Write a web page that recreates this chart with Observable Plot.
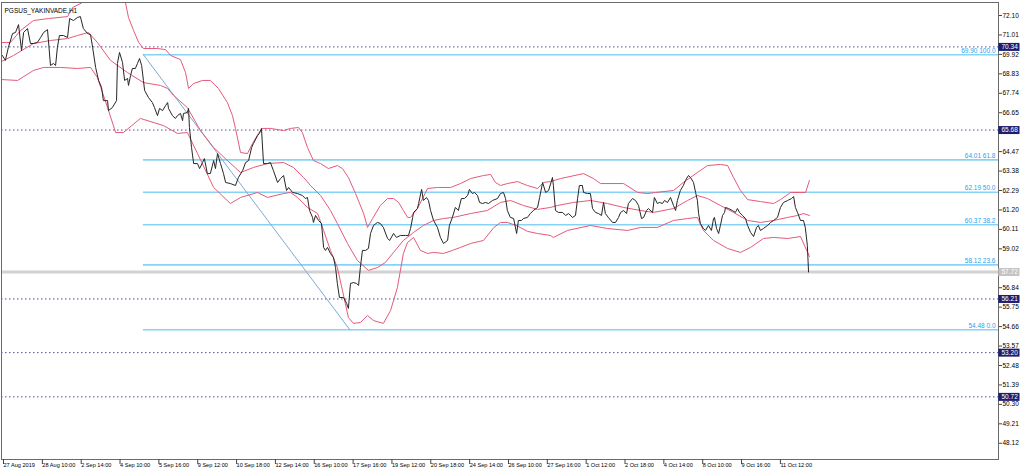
<!DOCTYPE html>
<html><head><meta charset="utf-8">
<script src="https://cdn.jsdelivr.net/npm/d3@7"></script>
<script src="https://cdn.jsdelivr.net/npm/@observablehq/plot@0.6"></script>
<style>
html,body{margin:0;padding:0;background:#fff;}
#chart{width:1024px;height:474px;}
</style></head><body>
<div id="chart"></div>
<script>
const title = "PGSUS_YAKINVADE,H1";

// close prices: [bar index, price]
const price = [[0.3,69.86],[1.3,69.58],[2.3,70.31],[3.7,71.09],[4.7,71.15],[5.7,71.59],[6.7,70.14],[7.4,71.15],[8.7,71.37],[9.7,70.53],[10.7,70.53],[12.0,70.59],[13.1,70.87],[14.1,71.15],[15.4,71.31],[16.4,69.30],[17.4,69.41],[18.1,69.30],[18.7,70.31],[19.4,70.98],[20.7,70.98],[22.1,70.87],[22.8,71.93],[24.1,71.82],[25.4,71.99],[26.4,72.04],[27.4,71.37],[28.8,71.09],[29.8,71.03],[30.5,70.31],[31.5,69.19],[32.5,68.46],[33.5,68.06],[34.1,67.33],[35.5,67.33],[35.8,66.77],[37.1,66.94],[38.5,67.33],[38.8,69.41],[39.5,70.03],[40.5,69.47],[41.2,68.46],[42.2,68.57],[42.5,68.18],[43.2,68.74],[43.8,69.13],[44.8,69.13],[45.5,69.41],[46.2,69.69],[46.9,69.30],[47.5,68.46],[47.9,67.90],[49.2,67.50],[50.5,67.22],[51.2,66.94],[52.2,66.49],[52.9,66.89],[53.9,66.77],[54.9,67.05],[55.6,67.22],[55.9,66.89],[57.2,66.49],[58.2,66.33],[58.9,66.49],[59.9,66.61],[60.6,66.21],[60.9,66.61],[62.2,66.66],[62.6,66.89],[62.9,65.82],[63.6,64.70],[64.3,63.80],[65.6,63.80],[66.3,63.52],[67.3,63.86],[67.9,64.08],[68.9,63.24],[69.9,63.24],[71.0,63.97],[71.6,63.52],[72.3,64.36],[73.3,63.80],[74.3,63.24],[75.0,62.74],[76.6,62.68],[78.3,62.57],[79.3,63.02],[80.7,63.41],[81.7,63.86],[82.7,63.97],[83.7,64.70],[84.3,64.92],[85.7,65.37],[86.3,65.49],[87.0,65.77],[87.7,63.80],[89.0,63.80],[90.0,63.86],[91.0,63.41],[92.4,62.74],[93.4,62.96],[94.4,63.13],[95.4,62.29],[96.1,62.46],[97.4,62.18],[99.1,62.12],[100.7,62.01],[101.7,61.84],[102.4,61.90],[103.1,61.17],[104.1,60.78],[104.4,60.50],[105.1,60.89],[106.1,60.61],[107.1,60.44],[107.8,59.10],[108.4,58.93],[109.1,59.10],[110.1,58.76],[111.1,58.54],[111.8,57.97],[112.4,57.08],[113.1,56.29],[114.5,56.29],[115.5,55.96],[116.1,55.68],[116.8,57.08],[117.8,57.13],[118.8,57.08],[119.5,56.97],[120.1,57.97],[120.8,58.93],[121.8,58.93],[122.8,59.04],[123.5,59.88],[124.5,60.33],[125.8,60.50],[126.8,60.44],[127.8,60.22],[129.2,59.60],[129.9,59.49],[131.2,59.88],[132.2,59.66],[133.5,59.77],[135.2,59.77],[136.2,59.77],[136.9,60.16],[137.6,60.78],[137.9,61.06],[139.2,61.28],[139.6,61.56],[140.6,62.35],[141.2,61.73],[142.2,61.90],[142.9,61.73],[143.6,61.17],[144.6,60.61],[145.9,60.22],[146.9,59.66],[147.9,59.32],[149.3,59.49],[149.9,60.33],[150.9,60.78],[151.9,61.34],[152.9,61.17],[153.9,61.84],[154.9,61.84],[156.0,62.01],[156.6,62.35],[157.6,62.12],[158.3,62.18],[159.3,62.01],[160.0,61.62],[161.0,61.56],[162.0,61.62],[163.0,61.56],[164.3,61.73],[166.0,61.84],[167.0,62.12],[168.0,62.18],[168.7,61.84],[169.3,61.17],[170.3,60.78],[171.4,60.72],[172.4,59.88],[173.0,60.61],[174.0,60.61],[174.7,60.72],[176.0,60.78],[177.0,61.00],[178.0,61.17],[179.4,61.34],[180.1,61.90],[181.1,62.74],[182.1,62.18],[183.1,62.29],[184.4,63.02],[184.7,62.57],[185.4,61.17],[186.4,61.06],[187.8,61.06],[188.8,60.89],[189.8,61.00],[191.1,60.78],[192.1,60.89],[192.8,61.84],[193.4,62.57],[194.4,62.57],[194.8,62.18],[196.1,62.12],[197.1,62.12],[197.8,61.28],[198.8,61.06],[199.8,61.00],[200.8,60.89],[201.5,61.62],[202.1,61.00],[203.1,60.78],[204.5,60.50],[205.5,60.50],[206.5,60.78],[207.2,61.06],[208.2,61.17],[209.2,61.00],[209.8,61.56],[211.2,61.84],[212.2,61.73],[213.2,61.45],[214.2,60.72],[214.9,60.78],[215.9,61.17],[216.5,61.28],[217.9,61.06],[218.5,61.90],[219.5,61.56],[220.2,61.62],[221.2,61.56],[221.9,61.73],[222.9,61.62],[223.9,61.90],[224.9,61.45],[225.6,61.17],[226.2,61.73],[227.2,62.29],[228.2,62.57],[228.9,62.85],[229.9,63.13],[230.6,63.02],[231.6,62.74],[232.3,62.18],[232.9,61.73],[233.3,61.00],[233.9,60.44],[234.9,60.16],[235.6,60.05],[236.6,60.33],[237.6,60.05],[238.3,60.72],[238.6,60.78],[239.3,60.16],[240.0,59.88],[240.6,60.33],[241.3,60.89],[242.0,61.06],[242.3,61.34],[243.3,61.28],[244.6,61.17],[245.6,61.06],[246.3,61.28],[247.0,61.06],[248.0,60.89],[249.0,60.72],[249.7,60.33],[250.7,59.94],[251.7,59.71],[252.7,60.22],[253.3,60.33],[254.0,60.05],[255.0,60.16],[256.4,60.33],[257.4,60.50],[258.4,60.61],[259.7,60.78],[260.7,61.34],[261.7,61.62],[263.1,61.73],[264.4,61.84],[265.1,61.95],[265.7,61.34],[266.4,61.06],[267.4,60.61],[268.4,60.61],[269.0,60.22],[269.7,59.21],[270.1,57.72]];

// Bollinger bands: [bar index, value]
const upperBand = [[0,70.59],[3.0,70.59],[6.4,71.26],[10.7,71.82],[15.7,71.93],[22.1,72.04],[23.8,72.55],[27.1,72.83],[30.4,73.11],[35.8,73.78],[41.2,73.05],[42.5,71.99],[44.2,71.26],[45.9,70.59],[47.5,70.25],[52.2,70.25],[54.9,70.19],[56.6,69.86],[59.9,69.63],[61.6,68.90],[62.6,68.01],[64.3,68.29],[67.3,68.46],[69.9,68.46],[72.6,68.01],[75.6,67.22],[77.3,66.49],[78.3,65.77],[80.0,64.42],[82.3,64.36],[84.0,64.92],[86.0,65.49],[87.3,65.77],[90.0,65.77],[94.4,65.65],[96.7,65.77],[99.4,65.82],[100.7,65.54],[102.4,64.70],[104.4,63.97],[106.8,63.80],[109.4,63.52],[112.4,63.69],[114.1,63.52],[116.1,63.02],[118.5,62.12],[121.2,61.00],[122.5,60.22],[124.2,60.72],[126.8,61.45],[129.2,61.84],[131.2,61.84],[132.9,61.62],[134.5,61.17],[135.9,60.78],[136.9,60.78],[139.2,61.28],[142.6,62.40],[145.9,62.46],[150.3,62.46],[153.6,62.68],[157.0,62.96],[161.3,63.13],[163.7,63.19],[165.3,62.74],[167.0,62.57],[169.3,62.68],[172.7,62.79],[176.0,62.57],[179.4,62.40],[181.4,62.74],[183.7,62.79],[187.1,62.96],[194.8,63.24],[198.1,62.96],[200.5,62.68],[208.2,62.68],[212.9,62.18],[216.2,62.12],[218.9,62.18],[224.9,62.29],[228.2,62.74],[232.9,63.30],[236.3,63.69],[240.6,63.75],[243.0,63.69],[245.0,63.02],[247.3,62.29],[249.7,61.78],[254.0,61.67],[258.4,61.56],[260.7,61.78],[264.1,62.18],[269.1,62.18],[270.4,62.85]];
const middleBand = [[0,69.52],[4.0,69.86],[10.7,70.53],[16.4,70.70],[22.1,70.81],[25.4,70.98],[29.1,71.15],[32.1,70.59],[36.5,69.58],[42.2,68.90],[47.5,68.34],[53.2,68.18],[55.6,68.01],[57.6,67.62],[62.2,66.94],[66.6,65.65],[71.0,64.70],[75.6,63.97],[80.0,63.30],[84.3,63.58],[89.0,63.80],[94.4,63.86],[97.7,63.58],[101.1,63.02],[103.4,62.57],[106.8,62.01],[110.1,61.17],[112.4,60.44],[115.8,59.32],[119.1,58.37],[122.8,57.81],[125.8,57.97],[128.5,58.26],[131.2,58.82],[134.5,59.49],[137.9,59.94],[141.2,60.33],[144.6,60.61],[147.9,60.72],[151.2,60.78],[157.0,61.00],[162.6,61.17],[167.0,61.62],[170.3,61.73],[174.7,61.45],[179.4,61.23],[183.7,61.34],[186.1,61.45],[191.4,61.62],[197.1,61.73],[202.8,61.56],[208.2,61.34],[213.9,61.17],[218.2,61.06],[224.9,61.28],[229.6,61.73],[232.9,62.01],[236.3,61.84],[240.6,61.45],[245.0,61.06],[249.7,60.61],[254.0,60.50],[258.4,60.61],[263.1,60.78],[266.4,60.89],[268.4,61.00],[270.4,60.89]];
const lowerBand = [[0,68.51],[5.4,68.46],[10.7,69.02],[14.1,69.19],[19.7,69.19],[25.4,69.13],[29.8,69.19],[32.1,68.62],[35.5,66.94],[38.2,65.54],[40.8,65.54],[46.5,66.33],[54.2,65.93],[58.9,65.49],[62.2,65.54],[65.6,64.36],[71.0,62.46],[76.6,61.56],[80.0,61.90],[85.7,62.18],[89.0,61.90],[94.4,62.12],[96.7,62.18],[99.1,61.90],[102.4,61.34],[105.8,61.00],[107.8,60.05],[110.1,58.93],[112.4,57.97],[114.1,56.69],[116.1,55.17],[117.8,54.84],[120.1,54.89],[122.5,55.28],[124.5,55.00],[127.8,54.84],[130.2,55.56],[132.5,56.85],[134.5,58.76],[135.9,59.38],[137.9,59.66],[140.2,58.93],[142.6,58.76],[144.6,58.82],[147.9,58.76],[150.9,58.93],[153.6,59.10],[157.0,59.32],[161.3,59.49],[164.7,60.20],[167.0,60.50],[169.3,60.50],[172.7,60.30],[176.0,60.00],[179.4,59.88],[183.7,59.77],[184.7,59.66],[189.4,60.05],[197.1,60.33],[202.8,60.16],[209.5,60.05],[213.9,60.22],[219.5,60.22],[224.9,60.61],[229.6,60.72],[232.9,60.78],[234.9,60.05],[238.3,59.49],[243.0,59.04],[247.3,58.82],[250.7,59.10],[255.0,59.60],[258.4,59.66],[263.1,59.60],[267.4,59.71],[270.4,58.59]];

// Horizontal levels
const dottedLevels = [70.34, 65.68, 56.21, 53.20, 50.72];
const currentPrice = 57.72;
const fibLevels = [54.48, 58.12, 60.37, 62.19, 64.01, 69.90];
const fibRatios = ["0.0", "23.6", "38.2", "50.0", "61.8", "100.0"];
const fibStartBar = 47.5;   // fib anchor (100.0) bar
const fibEndBar = 116.6;    // fib anchor (0.0) bar

// Axes (65.56 and 57.93 sit under the price tags, as in the terminal)
const yTicks = [72.10,71.01,69.92,68.83,67.74,66.65,64.47,63.38,62.29,61.20,60.11,59.02,56.84,55.75,54.66,53.57,52.48,51.39,50.30,49.21,48.12];
const xTickBars = [0,13,26,39,52,65,78,91,104,117,130,143,156,169,182,195,208,221,234,247,260];
const xTickLabels = ["27 Aug 2019","28 Aug 10:00","2 Sep 14:00","4 Sep 10:00","5 Sep 16:00","9 Sep 12:00","10 Sep 18:00","12 Sep 14:00","16 Sep 10:00","17 Sep 16:00","19 Sep 12:00","20 Sep 18:00","24 Sep 14:00","26 Sep 10:00","27 Sep 16:00","1 Oct 12:00","2 Oct 18:00","4 Oct 14:00","8 Oct 10:00","9 Oct 16:00","11 Oct 12:00"];

const xMax = 333.67;
const yMin = 47.21, yMax = 72.83;
const fibDiag = [[fibStartBar, fibLevels[fibLevels.length - 1]], [fibEndBar, fibLevels[0]]];

const bandColor = "#e55a78";
const xb = d => d[0], yv = d => d[1];

const plot = Plot.plot({
  width: 1024,
  height: 474,
  marginLeft: 1,
  marginRight: 26,
  marginTop: 2,
  marginBottom: 15,
  x: {domain: [0, xMax], axis: null},
  y: {domain: [yMin, yMax], axis: null},
  style: {background: "#fff", fontFamily: "'Liberation Sans', Arial, sans-serif", fontSize: "6.5px", color: "#000"},
  marks: [
    Plot.ruleY([currentPrice], {stroke: "#d2d2d2", strokeWidth: 3}),
    Plot.ruleY(dottedLevels, {stroke: "#4c4c9c", strokeDasharray: "1.5,2.5", strokeWidth: 1}),
    Plot.ruleY(fibLevels, {x1: fibStartBar, x2: xMax, stroke: "#86d3f5", strokeWidth: 1.6}),
    Plot.text(fibLevels, {x: xMax, y: d => d, text: (d, i) => `${d.toFixed(2)} ${fibRatios[i]}`, textAnchor: "end", dx: -3, dy: -4, fill: "#2aa2ee", fontSize: 6.5}),
    Plot.line(fibDiag, {x: xb, y: yv, stroke: "#7aa8d8", strokeWidth: 1}),
    Plot.line(upperBand, {x: xb, y: yv, stroke: bandColor, strokeWidth: 1, clip: true}),
    Plot.line(middleBand, {x: xb, y: yv, stroke: bandColor, strokeWidth: 1, clip: true}),
    Plot.line(lowerBand, {x: xb, y: yv, stroke: bandColor, strokeWidth: 1, clip: true}),
    Plot.line(price, {x: xb, y: yv, stroke: "#262626", strokeWidth: 1, clip: true}),
    Plot.frame({stroke: "#6a6a6a"}),
    Plot.axisY(yTicks, {anchor: "right", tickSize: 3, tickPadding: 1, tickFormat: d => d.toFixed(2), label: null, fill: "#000", stroke: "#444"}),
    Plot.axisX(xTickBars, {anchor: "bottom", tickSize: 5, tickPadding: -1, textAnchor: "start", dx: 2, fontSize: 5.6, tickFormat: d => xTickLabels[xTickBars.indexOf(d)], label: null, stroke: "#444"}),
    // price tags on the right scale
    Plot.ruleY(dottedLevels, {x1: xMax + 0.1, x2: xMax + 7.2, stroke: "#1e1e70", strokeWidth: 8, clip: false}),
    Plot.text(dottedLevels, {frameAnchor: "right", y: d => d, text: d => d.toFixed(2), textAnchor: "start", dx: 3, fill: "#fff"}),
    Plot.ruleY([currentPrice], {x1: xMax + 0.1, x2: xMax + 7.2, stroke: "#c4c4c4", strokeWidth: 8, clip: false}),
    Plot.text([currentPrice], {frameAnchor: "right", y: d => d, text: d => d.toFixed(2), textAnchor: "start", dx: 3, fill: "#fff"}),
    Plot.text([title], {frameAnchor: "top-left", dx: 3, dy: 6, textAnchor: "start", fill: "#000", fontSize: 6.5})
  ]
});
document.getElementById("chart").appendChild(plot);
</script>
</body></html>
